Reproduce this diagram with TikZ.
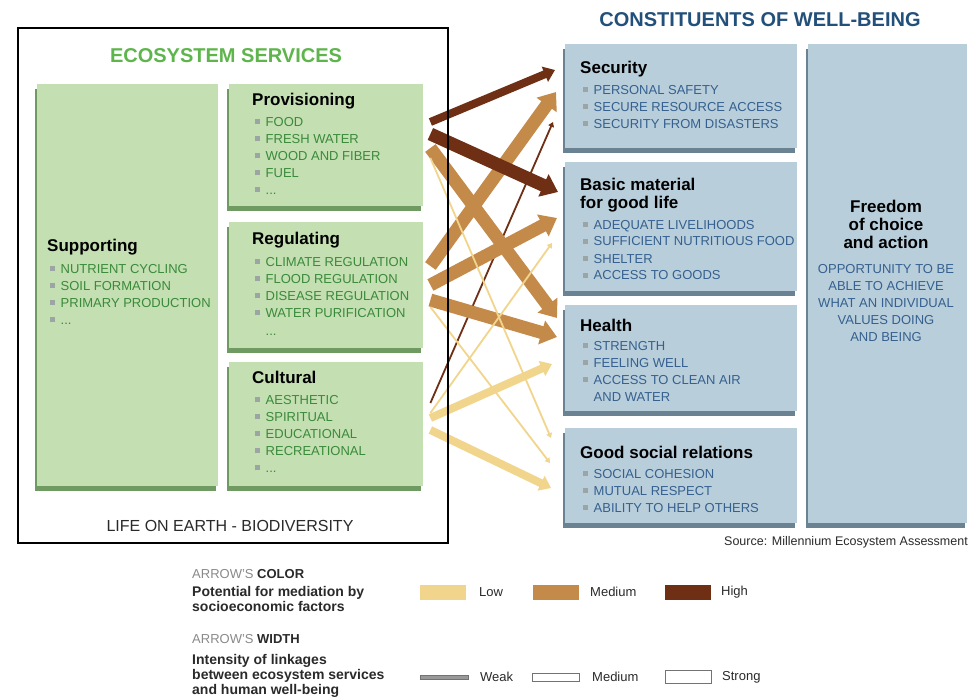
\documentclass[tikz,border=0pt]{standalone}
\usepackage{fontspec}
\setmainfont{Liberation Sans}
\usetikzlibrary{arrows.meta,calc,shadows}

\definecolor{gfill}{HTML}{C4DFB2}
\definecolor{gshade}{HTML}{6F9A62}
\definecolor{gtxt}{HTML}{3A8A3A}
\definecolor{gtitle}{HTML}{5DB54B}
\definecolor{bfill}{HTML}{B9CEDB}
\definecolor{bshade}{HTML}{6B8292}
\definecolor{btxt}{HTML}{35608F}
\definecolor{btitle}{HTML}{23507A}
\definecolor{lowc}{HTML}{F2D58C}
\definecolor{medc}{HTML}{C48A4A}
\definecolor{highc}{HTML}{6E2F14}
\definecolor{bulgray}{HTML}{9BA6A4}
\definecolor{leggray}{HTML}{8A8A8A}
\definecolor{legtxt}{HTML}{2A2A2A}

\newcommand\bul{\hspace*{2.5pt}\textcolor{bulgray}{\rule[2.2pt]{5pt}{5pt}}\hspace{6pt}}
\newcommand\hd[1]{{\fontsize{17}{18}\selectfont\bfseries\color{black}#1}}

\begin{document}
\begin{tikzpicture}[x=1pt,y=-1pt,
  gbox/.style={anchor=north west, fill=gfill, inner sep=0pt,
    drop shadow={shadow xshift=-2.5pt,shadow yshift=-4.5pt,fill=gshade,opacity=1}},
  bbox/.style={anchor=north west, fill=bfill, inner sep=0pt,
    drop shadow={shadow xshift=-2.5pt,shadow yshift=-4.5pt,fill=bshade,opacity=1}},
  gtext/.style={anchor=base west, inner sep=0pt, align=left, text=gtxt, font=\fontsize{13}{17}\selectfont},
  btext/.style={anchor=base west, inner sep=0pt, align=left, text=btxt, font=\fontsize{13}{17}\selectfont},
  link/.style={-{Triangle[length=3pt 1,width=3pt 1.6]}},
  wstrong/.style={line width=13pt},
  wmed/.style={line width=8pt},
  wweak/.style={line width=1.8pt},
  swatch/.style={minimum width=46pt, minimum height=15pt, inner sep=0pt},
  legtext/.style={anchor=base west, inner sep=0pt, align=left, text=legtxt, font=\fontsize{13}{15}\selectfont}
]
\path[fill=white,use as bounding box] (0,0) rectangle (979,700);

% Ecosystem services
\node[font=\fontsize{20}{20}\selectfont\bfseries, text=gtitle, anchor=base] (estitle) at (226,63) {ECOSYSTEM SERVICES};
\node[gbox, minimum width=181pt, minimum height=402pt] (sup) at (37,84) {};
\node[gbox, minimum width=194pt, minimum height=122pt] (prov) at (229,84) {};
\node[gbox, minimum width=194pt, minimum height=126pt] (reg) at (229,222) {};
\node[gbox, minimum width=194pt, minimum height=124pt] (cult) at (229,362) {};

% (base of a multi-line node = its last line)
\node[gtext] (suptxt) at (47,324.5) {\hd{Supporting}\\[5.5pt]
  \bul NUTRIENT CYCLING\\ \bul SOIL FORMATION\\ \bul PRIMARY PRODUCTION\\ \bul ...};
\node[gtext] (provtxt) at (252,194.5) {\hd{Provisioning}\\[3.5pt]
  \bul FOOD\\ \bul FRESH WATER\\ \bul WOOD AND FIBER\\ \bul FUEL\\ \bul ...};
\node[gtext] (regtxt) at (252,335.5) {\hd{Regulating}\\[4.5pt]
  \bul CLIMATE REGULATION\\ \bul FLOOD REGULATION\\ \bul DISEASE REGULATION\\
  \bul WATER PURIFICATION\\[1pt] \hspace*{13.5pt}...};
\node[gtext] (culttxt) at (252,472.5) {\hd{Cultural}\\[4.5pt]
  \bul AESTHETIC\\ \bul SPIRITUAL\\ \bul EDUCATIONAL\\ \bul RECREATIONAL\\ \bul ...};

\node[font=\fontsize{16}{16}\selectfont, text=legtxt, anchor=base] (life) at (230,531) {LIFE ON EARTH - BIODIVERSITY};

% Constituents of well-being
\node[font=\fontsize{20}{20}\selectfont\bfseries, text=btitle, anchor=base] (cwtitle) at (760,27) {CONSTITUENTS OF WELL-BEING};
\node[bbox, minimum width=232pt, minimum height=104pt] (sec) at (565,44) {};
\node[bbox, minimum width=232pt, minimum height=129pt] (basic) at (565,162) {};
\node[bbox, minimum width=232pt, minimum height=106pt] (health) at (565,305) {};
\node[bbox, minimum width=232pt, minimum height=95pt] (social) at (565,428) {};
\node[bbox, minimum width=159pt, minimum height=479pt] (free) at (808,44) {};

\node[btext] (sectxt) at (580,128.5) {\hd{Security}\\[3.5pt]
  \bul PERSONAL SAFETY\\ \bul SECURE RESOURCE ACCESS\\ \bul SECURITY FROM DISASTERS};
\node[btext] (basictxt) at (580,280) {\hd{Basic material}\\[1pt]\hd{for good life}\\[3.5pt]
  \bul ADEQUATE LIVELIHOODS\\ \bul SUFFICIENT NUTRITIOUS FOOD\\ \bul SHELTER\\ \bul ACCESS TO GOODS};
\node[btext] (healthtxt) at (580,401.5) {\hd{Health}\\[2.5pt]
  \bul STRENGTH\\ \bul FEELING WELL\\ \bul ACCESS TO CLEAN AIR\\ \hspace*{13.5pt}AND WATER};
\node[btext] (socialtxt) at (580,512.5) {\hd{Good social relations}\\[3.5pt]
  \bul SOCIAL COHESION\\ \bul MUTUAL RESPECT\\ \bul ABILITY TO HELP OTHERS};
\node[anchor=base, align=center, inner sep=0pt, text=btxt, font=\fontsize{13}{17}\selectfont] (freetxt) at (886,341.5)
  {\hd{Freedom}\\[1pt]\hd{of choice}\\[1pt]\hd{and action}\\[8.5pt]
  OPPORTUNITY TO BE\\ ABLE TO ACHIEVE\\ WHAT AN INDIVIDUAL\\ VALUES DOING\\ AND BEING};

\node[font=\fontsize{12.5}{12.5}\selectfont, text=legtxt, anchor=base east, inner sep=0pt] (source) at (968,545) {Source: Millennium Ecosystem Assessment};

% Linkages
\draw[link, wweak, highc] ($(cult.north east)+(7,41)$) -- ($(sec.north west)+(-12,78)$);
\draw[link, wmed, lowc] ($(cult.north east)+(7,56)$) -- ($(health.north west)+(-13,59)$);
\draw[link, wmed, lowc] ($(cult.north east)+(7,68)$) -- ($(social.north west)+(-14,60)$);
\draw[link, wstrong, medc] ($(prov.north east)+(7,64)$) -- ($(health.north west)+(-8,13)$);
\draw[link, wstrong, medc] ($(reg.north east)+(7,44)$) -- ($(sec.north west)+(-9,48)$);
\draw[link, wstrong, medc] ($(reg.north east)+(7,63)$) -- ($(basic.north west)+(-8,56)$);
\draw[link, wstrong, medc] ($(reg.north east)+(7,78)$) -- ($(health.north west)+(-8,32)$);
\draw[link, wmed, highc] ($(prov.north east)+(7,38)$) -- ($(sec.north west)+(-10,26)$);
\draw[link, wstrong, highc] ($(prov.north east)+(7,50)$) -- ($(basic.north west)+(-7,30)$);
\draw[link, wweak, lowc] ($(prov.north east)+(7,74)$) -- ($(social.north west)+(-14,10)$);
\draw[link, wweak, lowc] ($(reg.north east)+(7,85)$) -- ($(social.north west)+(-15,35)$);
\draw[link, wweak, lowc] ($(cult.north east)+(7,51)$) -- ($(basic.north west)+(-13,81)$);

\node[draw=black, line width=1.6pt, minimum width=430pt, minimum height=515pt, anchor=north west, inner sep=0pt] (frame) at (17,27) {};

% Legend
\node[legtext] (colhead) at (192,578) {\textcolor{leggray}{ARROW'S} \textbf{COLOR}};
\node[legtext, font=\fontsize{14}{15}\selectfont\bfseries] (colexpl) at (192,611) {Potential for mediation by\\socioeconomic factors};
\node[swatch, fill=lowc] (swlow) at (443,592) {};
\node[swatch, fill=medc] (swmed) at (556,592) {};
\node[swatch, fill=highc] (swhigh) at (688,592) {};
\node[legtext, anchor=west] (lablow) at (479,592) {Low};
\node[legtext, anchor=west] (labmed) at (590,592) {Medium};
\node[legtext, anchor=west] (labhigh) at (721,592) {High};

\node[legtext] (widhead) at (192,643) {\textcolor{leggray}{ARROW'S} \textbf{WIDTH}};
\node[legtext, font=\fontsize{14}{15}\selectfont\bfseries] (widexpl) at (192,694) {Intensity of linkages\\between ecosystem services\\and human well-being};
\node[inner sep=0pt, minimum width=48pt, minimum height=4pt, fill=black!40, draw=black!55, line width=0.4pt] (swweak) at (444,677) {};
\node[inner sep=0pt, minimum width=47pt, minimum height=8pt, fill=white, draw=black!55, line width=0.8pt] (swmw) at (556,677) {};
\node[inner sep=0pt, minimum width=46pt, minimum height=13pt, fill=white, draw=black!55, line width=0.8pt] (swstrong) at (688,677) {};
\node[legtext, anchor=west] (labweak) at (480,677) {Weak};
\node[legtext, anchor=west] (labmw) at (592,677) {Medium};
\node[legtext, anchor=west] (labstrong) at (722,677) {Strong};
\end{tikzpicture}
\end{document}
